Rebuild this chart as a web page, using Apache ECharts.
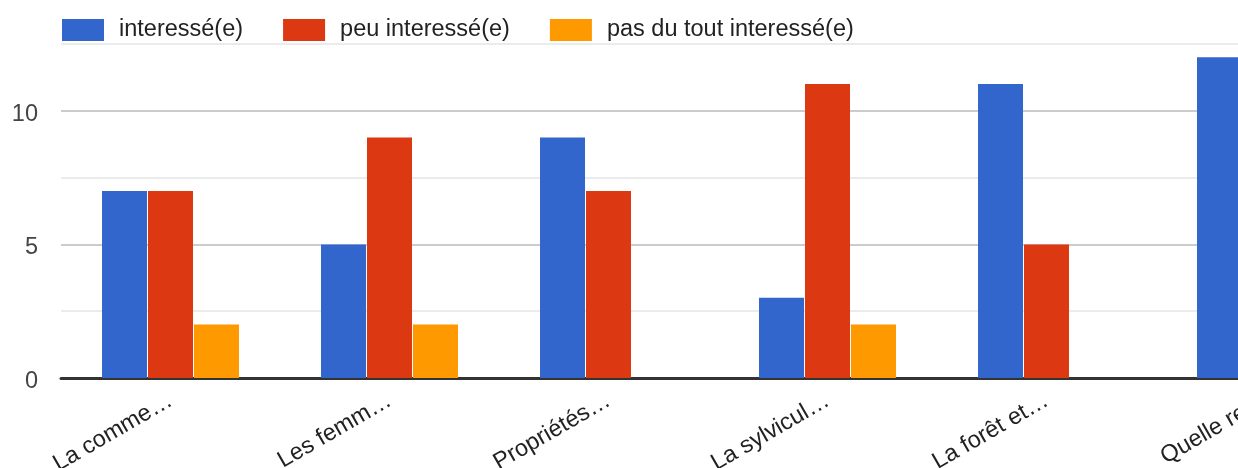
<!DOCTYPE html>
<html><head><meta charset="utf-8">
<script src="https://cdn.jsdelivr.net/npm/echarts@6/dist/echarts.min.js"></script>
<style>html,body{margin:0;padding:0;overflow:hidden;background:#fff;width:1238px;height:468px}#c{width:1400px;height:468px}</style>
</head><body><div id="c"></div>
<script>
const categories = ["La comme…", "Les femm…", "Propriétés…", "La sylvicul…", "La forêt et…", "Quelle re…"];
const seriesNames = ["interessé(e)", "peu interessé(e)", "pas du tout interessé(e)"];
const interesse = [7, 5, 9, 3, 11, 12];
const peuInteresse = [7, 9, 7, 11, 5, 4];
const pasDuTout = [2, 2, 0, 2, 0, 0];
const yTickLabels = ["0", "5", "10"];
const colors = ["#3366cc", "#dc3912", "#ff9900"];

const chart = echarts.init(document.getElementById('c'));
const values = [interesse, peuInteresse, pasDuTout];
chart.setOption({
  animation: false,
  color: colors,
  textStyle: {fontFamily: '"Liberation Sans", Arial, sans-serif'},
  legend: {
    left: 62, top: 18, padding: 0, itemWidth: 42, itemHeight: 22, itemGap: 40,
    icon: 'rect',
    textStyle: {fontSize: 23.5, color: '#222', padding: [4, 0, 0, 10], fontFamily: '"Liberation Sans", Arial, sans-serif'},
    data: seriesNames
  },
  grid: {left: 61, top: 44, width: 1314, bottom: 90, containLabel: false, outerBoundsMode: 'none'},
  xAxis: {
    type: 'category', data: categories,
    axisLine: {lineStyle: {color: '#333', width: 3}},
    axisTick: {show: false},
    axisLabel: {rotate: 30, fontSize: 23.5, color: '#222', margin: 21, fontFamily: '"Liberation Sans", Arial, sans-serif'}
  },
  yAxis: {
    type: 'value', min: 0, max: 12.5, interval: 2.5,
    axisLine: {show: false}, axisTick: {show: false},
    axisLabel: {fontSize: 23.5, color: '#444', margin: 23, fontFamily: '"Liberation Sans", Arial, sans-serif',
      formatter: v => (yTickLabels.indexOf(String(v)) >= 0 ? '{n|' + String(v) + '}' : ''),
      rich: {n: {fontSize: 23.5, color: '#444', padding: [7, 0, 0, 0], fontFamily: '"Liberation Sans", Arial, sans-serif'}}},
    splitLine: {lineStyle: {color: ['#cccccc', '#ebebeb'], width: 2}}
  },
  series: seriesNames.map((n, i) => ({
    name: n, type: 'bar', data: values[i], barWidth: 45, barGap: '2.2%'
  }))
});
</script></body></html>
